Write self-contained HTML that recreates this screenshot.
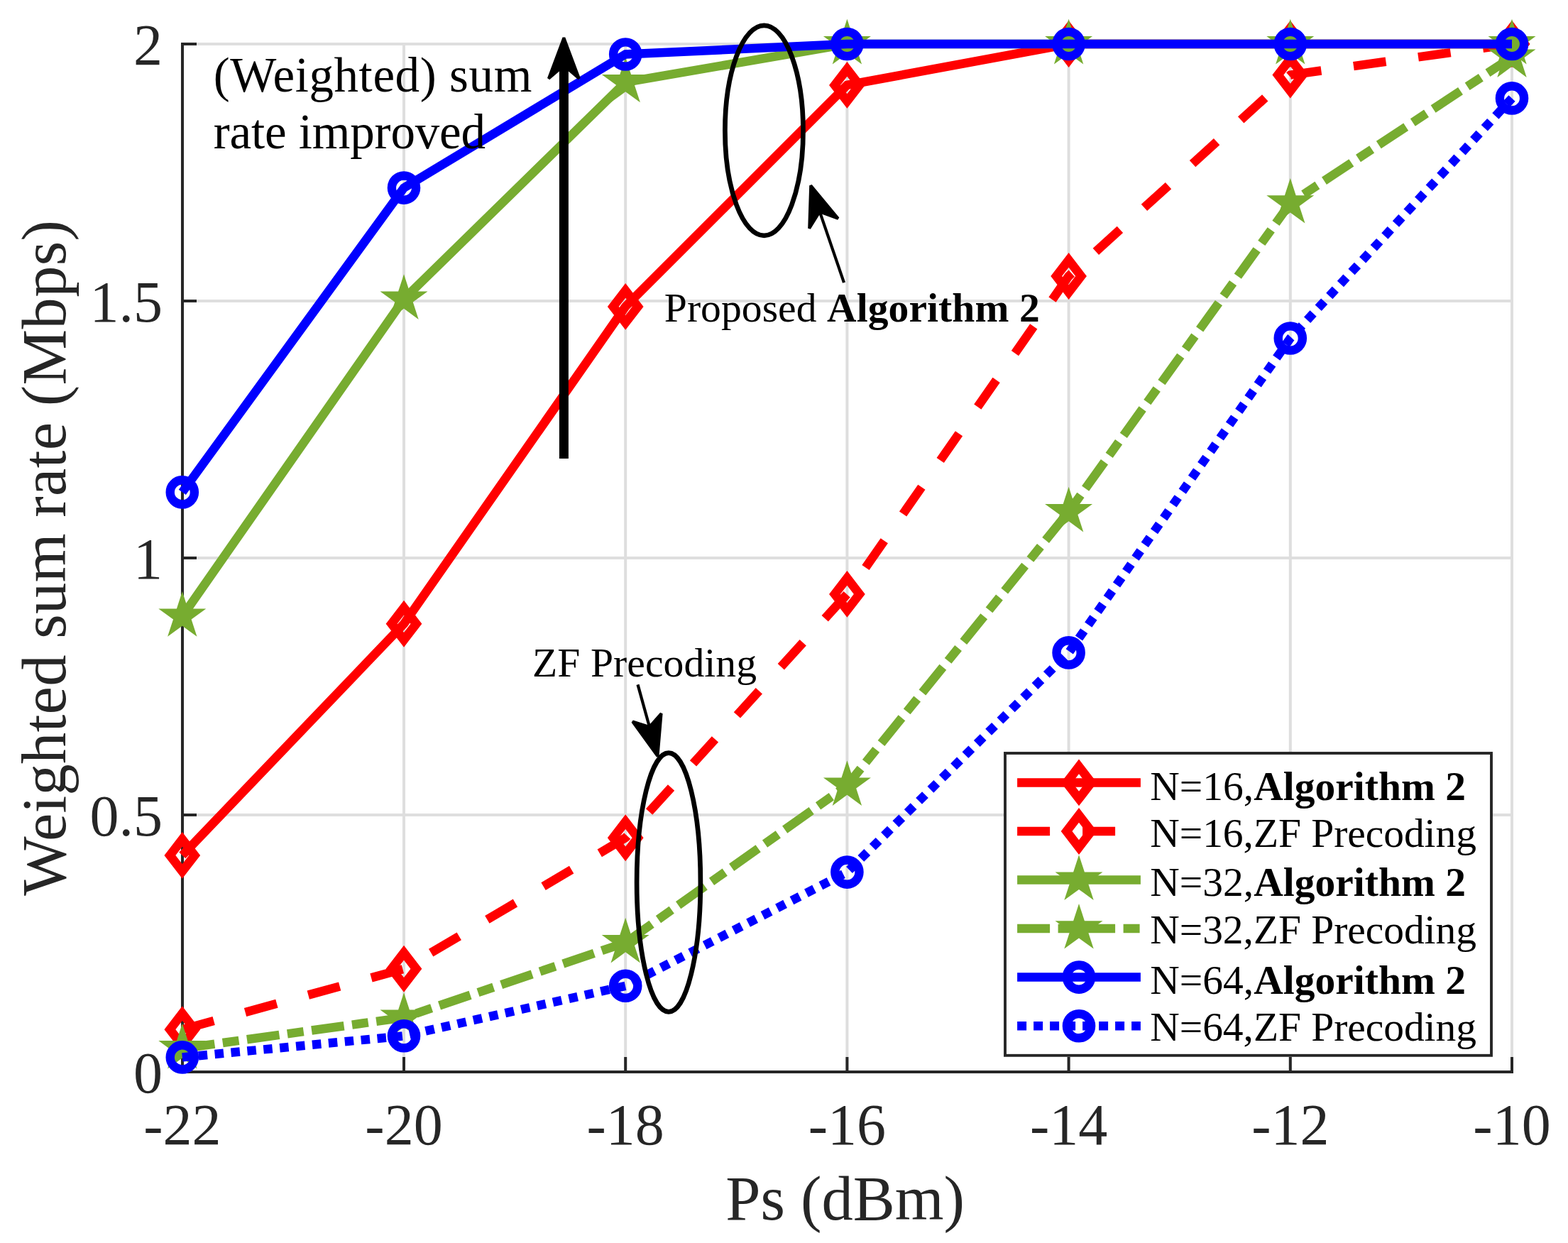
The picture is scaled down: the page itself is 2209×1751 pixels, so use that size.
<!DOCTYPE html>
<html><head><meta charset="utf-8"><title>Weighted sum rate vs Ps</title>
<style>html,body{margin:0;padding:0;background:#fff;}svg{display:block;}</style></head>
<body>
<svg width="2209" height="1751" viewBox="0 0 2209 1751"><rect width="100%" height="100%" fill="#fff"/><defs>
<path id="mk-d" d="M0,-22.6L17.4,0L0,22.6L-17.4,0Z" fill="none" stroke="#ff0000" stroke-width="12.6" stroke-linejoin="miter" stroke-miterlimit="10"/>
<polygon id="mk-p" points="0.00,-35.20 7.90,-10.88 33.48,-10.88 12.79,4.15 20.69,28.48 0.00,13.45 -20.69,28.48 -12.79,4.15 -33.48,-10.88 -7.90,-10.88" fill="#77ac30"/>
<circle id="mk-o" r="17.1" fill="none" stroke="#0000ff" stroke-width="12.4"/>
</defs>
<g stroke="#dedede" stroke-width="4"><line x1="256.8" y1="62" x2="256.8" y2="1510"/><line x1="569.0" y1="62" x2="569.0" y2="1510"/><line x1="881.2" y1="62" x2="881.2" y2="1510"/><line x1="1193.4" y1="62" x2="1193.4" y2="1510"/><line x1="1505.6" y1="62" x2="1505.6" y2="1510"/><line x1="1817.8" y1="62" x2="1817.8" y2="1510"/><line x1="2130.0" y1="62" x2="2130.0" y2="1510"/><line x1="257" y1="1148.0" x2="2130" y2="1148.0"/><line x1="257" y1="786.0" x2="2130" y2="786.0"/><line x1="257" y1="424.0" x2="2130" y2="424.0"/><line x1="257" y1="62.0" x2="2130" y2="62.0"/></g>
<rect x="255" y="60" width="4" height="1452" fill="#262626"/><rect x="255" y="1508" width="1877" height="4" fill="#262626"/><rect x="567.0" y="1489" width="4" height="21" fill="#262626"/><rect x="879.2" y="1489" width="4" height="21" fill="#262626"/><rect x="1191.4" y="1489" width="4" height="21" fill="#262626"/><rect x="1503.6" y="1489" width="4" height="21" fill="#262626"/><rect x="1815.8" y="1489" width="4" height="21" fill="#262626"/><rect x="2128.0" y="1489" width="4" height="21" fill="#262626"/><rect x="257" y="1146.0" width="20" height="4" fill="#262626"/><rect x="257" y="784.0" width="20" height="4" fill="#262626"/><rect x="257" y="422.0" width="20" height="4" fill="#262626"/><rect x="257" y="60.0" width="20" height="4" fill="#262626"/>
<g font-family="Liberation Serif, serif" font-size="82" fill="#262626"><text x="256.8" y="1612" text-anchor="middle">-22</text><text x="569.0" y="1612" text-anchor="middle">-20</text><text x="881.2" y="1612" text-anchor="middle">-18</text><text x="1193.4" y="1612" text-anchor="middle">-16</text><text x="1505.6" y="1612" text-anchor="middle">-14</text><text x="1817.8" y="1612" text-anchor="middle">-12</text><text x="2130.0" y="1612" text-anchor="middle">-10</text><text x="229" y="1539.0" text-anchor="end">0</text><text x="229" y="1177.0" text-anchor="end">0.5</text><text x="229" y="815.0" text-anchor="end">1</text><text x="229" y="453.0" text-anchor="end">1.5</text><text x="229" y="91.0" text-anchor="end">2</text></g>
<text x="1022.3" y="1718" textLength="336.65" font-family="Liberation Serif, serif" font-size="88.5" fill="#262626">Ps (dBm)</text>
<text transform="translate(91.7,1261.8) rotate(-90)" textLength="951.8" font-family="Liberation Serif, serif" font-size="88.5" fill="#262626">Weighted sum rate (Mbps)</text>
<polyline points="256.8,1204.9 569.0,878.8 881.2,431.9 1193.4,119.9 1505.6,62.0 1817.8,62.0 2130.0,62.0" fill="none" stroke="#ff0000" stroke-width="12.5" stroke-linejoin="miter" stroke-linecap="butt"/>
<use href="#mk-d" x="256.8" y="1204.9"/><use href="#mk-d" x="569.0" y="878.8"/><use href="#mk-d" x="881.2" y="431.9"/><use href="#mk-d" x="1193.4" y="119.9"/><use href="#mk-d" x="1505.6" y="62.0"/><use href="#mk-d" x="1817.8" y="62.0"/><use href="#mk-d" x="2130.0" y="62.0"/>
<polyline points="256.8,1450.2 569.0,1364.8 881.2,1180.2 1193.4,836.9 1505.6,389.0 1817.8,105.6 2130.0,62.0" fill="none" stroke="#ff0000" stroke-width="12.5" stroke-linejoin="miter" stroke-linecap="butt" stroke-dasharray="46 46"/>
<use href="#mk-d" x="256.8" y="1450.2"/><use href="#mk-d" x="569.0" y="1364.8"/><use href="#mk-d" x="881.2" y="1180.2"/><use href="#mk-d" x="1193.4" y="836.9"/><use href="#mk-d" x="1505.6" y="389.0"/><use href="#mk-d" x="1817.8" y="105.6"/><use href="#mk-d" x="2130.0" y="62.0"/>
<polyline points="256.8,868.3 569.0,421.4 881.2,115.8 1193.4,62.0 1505.6,62.0 1817.8,62.0 2130.0,62.0" fill="none" stroke="#77ac30" stroke-width="12.5" stroke-linejoin="miter" stroke-linecap="butt"/>
<use href="#mk-p" x="256.8" y="868.3"/><use href="#mk-p" x="569.0" y="421.4"/><use href="#mk-p" x="881.2" y="115.8"/><use href="#mk-p" x="1193.4" y="62.0"/><use href="#mk-p" x="1505.6" y="62.0"/><use href="#mk-p" x="1817.8" y="62.0"/><use href="#mk-p" x="2130.0" y="62.0"/>
<polyline points="256.8,1477.0 569.0,1433.4 881.2,1327.9 1193.4,1106.4 1505.6,720.9 1817.8,286.1 2130.0,80.4" fill="none" stroke="#77ac30" stroke-width="12.5" stroke-linejoin="miter" stroke-linecap="butt" stroke-dasharray="46 11.5 23 11.5"/>
<use href="#mk-p" x="256.8" y="1477.0"/><use href="#mk-p" x="569.0" y="1433.4"/><use href="#mk-p" x="881.2" y="1327.9"/><use href="#mk-p" x="1193.4" y="1106.4"/><use href="#mk-p" x="1505.6" y="720.9"/><use href="#mk-p" x="1817.8" y="286.1"/><use href="#mk-p" x="2130.0" y="80.4"/>
<polyline points="256.8,693.4 569.0,264.6 881.2,76.5 1193.4,62.0 1505.6,62.0 1817.8,62.0 2130.0,62.0" fill="none" stroke="#0000ff" stroke-width="12.5" stroke-linejoin="miter" stroke-linecap="butt"/>
<use href="#mk-o" x="256.8" y="693.4"/><use href="#mk-o" x="569.0" y="264.6"/><use href="#mk-o" x="881.2" y="76.5"/><use href="#mk-o" x="1193.4" y="62.0"/><use href="#mk-o" x="1505.6" y="62.0"/><use href="#mk-o" x="1817.8" y="62.0"/><use href="#mk-o" x="2130.0" y="62.0"/>
<polyline points="256.8,1489.4 569.0,1459.3 881.2,1388.8 1193.4,1228.6 1505.6,919.4 1817.8,476.5 2130.0,138.4" fill="none" stroke="#0000ff" stroke-width="12.5" stroke-linejoin="miter" stroke-linecap="butt" stroke-dasharray="12.5 10.5"/>
<use href="#mk-o" x="256.8" y="1489.4"/><use href="#mk-o" x="569.0" y="1459.3"/><use href="#mk-o" x="881.2" y="1388.8"/><use href="#mk-o" x="1193.4" y="1228.6"/><use href="#mk-o" x="1505.6" y="919.4"/><use href="#mk-o" x="1817.8" y="476.5"/><use href="#mk-o" x="2130.0" y="138.4"/>
<g font-family="Liberation Serif, serif" font-size="57.5" fill="#000"><rect x="1416" y="1061" width="685" height="425.8" fill="#fff" stroke="#262626" stroke-width="3.9"/><line x1="1433.1" y1="1102.4" x2="1606.9" y2="1102.4" stroke="#ff0000" stroke-width="12.5"/><use href="#mk-d" x="1520" y="1102.4"/><text x="1620.3" y="1126.9" textLength="444.7">N=16,<tspan font-weight="bold">Algorithm 2</tspan></text><line x1="1433.1" y1="1171.0" x2="1606.9" y2="1171.0" stroke="#ff0000" stroke-width="12.5" stroke-dasharray="46 46"/><use href="#mk-d" x="1520" y="1171.0"/><text x="1620.3" y="1192.8" textLength="459.7">N=16,ZF Precoding</text><line x1="1433.1" y1="1239.5" x2="1606.9" y2="1239.5" stroke="#77ac30" stroke-width="12.5"/><use href="#mk-p" x="1520" y="1239.5"/><text x="1620.3" y="1262.1" textLength="444.7">N=32,<tspan font-weight="bold">Algorithm 2</tspan></text><line x1="1433.1" y1="1308.1" x2="1606.9" y2="1308.1" stroke="#77ac30" stroke-width="12.5" stroke-dasharray="46 11.5 23 11.5"/><use href="#mk-p" x="1520" y="1308.1"/><text x="1620.3" y="1328.9" textLength="459.7">N=32,ZF Precoding</text><line x1="1433.1" y1="1376.6" x2="1606.9" y2="1376.6" stroke="#0000ff" stroke-width="12.5"/><use href="#mk-o" x="1520" y="1376.6"/><text x="1620.3" y="1399.8" textLength="444.7">N=64,<tspan font-weight="bold">Algorithm 2</tspan></text><line x1="1433.1" y1="1445.2" x2="1606.9" y2="1445.2" stroke="#0000ff" stroke-width="12.5" stroke-dasharray="13 10"/><use href="#mk-o" x="1520" y="1445.2"/><text x="1620.3" y="1465.9" textLength="459.7">N=64,ZF Precoding</text></g>
<line x1="794.4" y1="646.0" x2="794.4" y2="90.2" stroke="#000" stroke-width="13"/><polygon points="794.4,53.2 815.9,110.7 794.4,92.2 772.9,110.7" fill="#000" stroke="#000" stroke-width="4" stroke-linejoin="bevel"/><line x1="1189.0" y1="398.1" x2="1154.2" y2="296.4" stroke="#000" stroke-width="4.2"/><polygon points="1142.2,261.4 1180.8,307.9 1154.8,298.3 1140.2,321.8" fill="#000" stroke="#000" stroke-width="4" stroke-linejoin="bevel"/><line x1="898.5" y1="964.4" x2="915.5" y2="1025.8" stroke="#000" stroke-width="4.2"/><polygon points="926.5,1065.3 891.2,1016.5 915.0,1023.9 931.6,1005.2" fill="#000" stroke="#000" stroke-width="4" stroke-linejoin="bevel"/><ellipse cx="1076.45" cy="183.9" rx="55.05" ry="148" fill="none" stroke="#000" stroke-width="6.7"/><ellipse cx="942" cy="1243" rx="44.9" ry="182.4" fill="none" stroke="#000" stroke-width="6.7"/><g font-family="Liberation Serif, serif" fill="#000"><text x="300.7" y="128.9" font-size="69" textLength="448.6">(Weighted) sum</text><text x="300.7" y="209" font-size="69" textLength="383.4">rate improved</text><text x="935.8" y="453.3" font-size="57.6" textLength="528.9">Proposed <tspan font-weight="bold">Algorithm 2</tspan></text><text x="750.1" y="952.7" font-size="57.6" textLength="315.9">ZF Precoding</text></g></svg>
</body></html>
